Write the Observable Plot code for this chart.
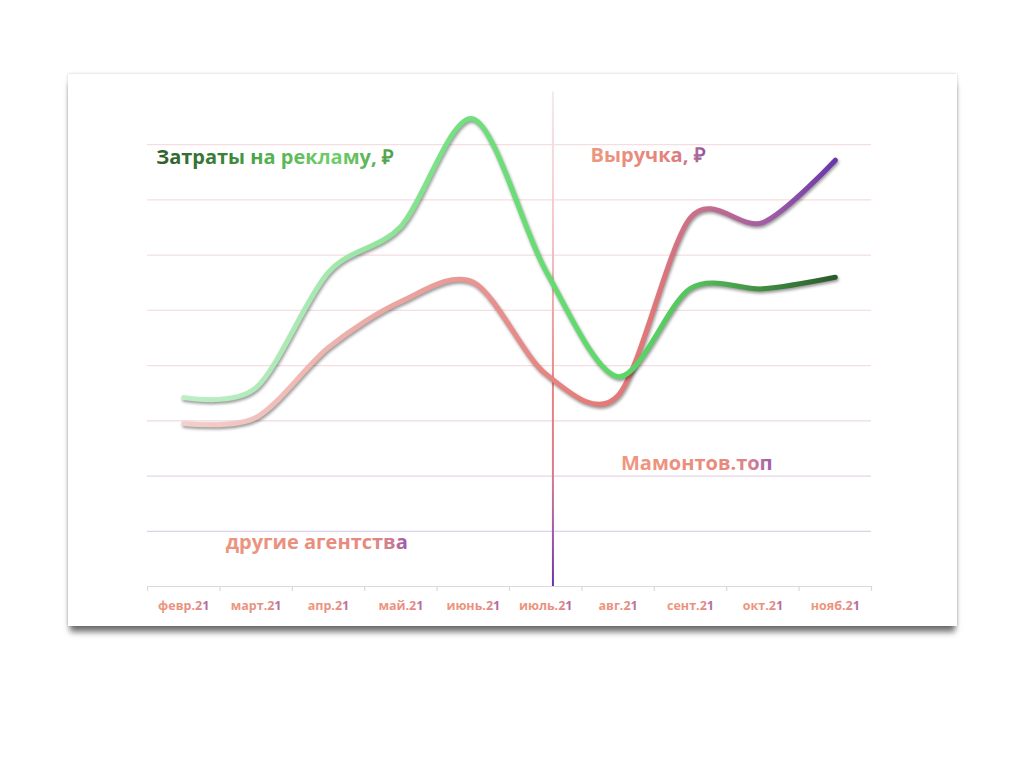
<!DOCTYPE html>
<html>
<head>
<meta charset="utf-8">
<script src="https://cdn.jsdelivr.net/npm/d3@7"></script>
<script src="https://cdn.jsdelivr.net/npm/@observablehq/plot@0.6"></script>
<style>
  html, body { margin: 0; padding: 0; background: #ffffff; }
  body { width: 1024px; height: 768px; overflow: hidden; position: relative; font-family: "Open Sans", sans-serif; }
  #card {
    position: absolute; left: 68px; top: 74px; width: 889px; height: 552px;
    background: #ffffff;
    box-shadow: 0 8px 6px -2px rgba(0,0,0,0.55), 0 0 3px rgba(0,0,0,0.2);
  }
  #card svg { display: block; }
</style>
</head>
<body>
<div id="card"></div>
<script>
// ---- data ----
const months = ["февр.21", "март.21", "апр.21", "май.21", "июнь.21", "июль.21", "авг.21", "сент.21", "окт.21", "нояб.21"];
const adSpend = [3.42, 3.60, 5.69, 6.52, 8.47, 5.72, 3.80, 5.40, 5.39, 5.60];
const revenue = [2.95, 3.06, 4.33, 5.16, 5.51, 3.85, 3.46, 6.68, 6.59, 7.72];
const gridValues = [1, 2, 3, 4, 5, 6, 7, 8];
const dividerAt = [5.1];
const annotationLabels = ["Затраты на рекламу, ₽", "Выручка, ₽", "Мамонтов.топ", "другие агентства"];
const annotationX = [-0.38, 5.62, 6.04, 0.58];
const annotationY = [7.77, 7.80, 2.23, 0.80];

// ---- tables built from the arrays ----
const idx = months.map((m, i) => i);
const spendRows = idx.map(i => ({x: i, y: adSpend[i]}));
const revenueRows = idx.map(i => ({x: i, y: revenue[i]}));
const boundaries = d3.range(-0.5, months.length, 1);
const annotations = annotationLabels.map((t, i) => ({label: t, x: annotationX[i], y: annotationY[i]}));
const annotationFill = ["url(#gTitleGreen)", "url(#gTitlePink)", "url(#gTitlePink2)", "url(#gTitlePink3)"];

const W = 889, H = 552, mT = 15, mB = 40, mL = 79, mR = 86;
const gridColor = d3.interpolateRgb("#ddd2ec", "#f6dde1");

const chart = Plot.plot({
  width: W, height: H,
  marginTop: mT, marginBottom: mB, marginLeft: mL, marginRight: mR,
  style: {background: "transparent", fontFamily: "'Open Sans', sans-serif"},
  x: {domain: [-0.5, months.length - 0.5], axis: null},
  y: {domain: [0, 9], axis: null},
  marks: [
    Plot.ruleY(gridValues, {stroke: d => gridColor(Math.min(1, (d - 1) / 3)), strokeWidth: 1.2}),
    Plot.ruleY([0], {stroke: "#dadada", strokeWidth: 1.2}),
    Plot.ruleX(boundaries, {y1: 0, y2: -0.09, stroke: "#dadada", strokeWidth: 1.2}),
    Plot.text(idx, {x: d => d, y: 0, dy: 19, text: d => months[d], fill: "url(#gTick)", fontSize: 12.5, fontWeight: "bold"}),
    Plot.ruleX(dividerAt, {y1: 0, y2: 9 * 0.995, stroke: "url(#gDivider)", strokeWidth: 2}),
    Plot.line(revenueRows, {x: "x", y: "y", curve: "cardinal", tension: 0.1, stroke: "url(#gRevenue)", strokeWidth: 5, strokeLinecap: "round"}),
    Plot.line(spendRows, {x: "x", y: "y", curve: "cardinal", tension: 0.1, stroke: "url(#gSpend)", strokeWidth: 5, strokeLinecap: "round"}),
    Plot.text(annotations, {x: "x", y: "y", text: "label", textAnchor: "start", fill: (d, i) => annotationFill[i], fontSize: 20, fontWeight: "bold"})
  ]
});

document.getElementById("card").appendChild(chart);

// ---- gradients & shadows ----
const svg = d3.select(chart);
const defs = svg.insert("defs", ":first-child");
function grad(id, stops, vertical, user) {
  const g = defs.append("linearGradient").attr("id", id);
  if (user) {
    g.attr("gradientUnits", "userSpaceOnUse").attr("x1", 0).attr("x2", 0).attr("y1", mT).attr("y2", H - mB);
  } else if (vertical) {
    g.attr("x1", 0).attr("x2", 0).attr("y1", 0).attr("y2", 1);
  } else {
    g.attr("x1", 0).attr("x2", 1).attr("y1", 0).attr("y2", 0);
  }
  stops.forEach(([o, c]) => g.append("stop").attr("offset", o).attr("stop-color", c));
}
grad("gSpend", [[0, "#bdeec4"], [0.22, "#a6e8b0"], [0.44, "#6fe07b"], [0.67, "#5cd867"], [0.78, "#55c45c"], [0.89, "#3f8d41"], [1, "#2d5a2b"]]);
grad("gRevenue", [[0, "#f3d0cb"], [0.22, "#eeb4ae"], [0.44, "#e99592"], [0.62, "#e57c79"], [0.72, "#e07679"], [0.8, "#c56e8c"], [0.9, "#a05ca6"], [1, "#6836ad"]]);
grad("gDivider", [[0, "#f7e9f0"], [0.3, "#f2c4c6"], [0.6, "#e88585"], [0.78, "#d87c8a"], [0.9, "#9a5aa8"], [1, "#6a32a8"]], true, true);
grad("gTick", [[0, "#ec977f"], [0.72, "#e88e80"], [0.86, "#d98490"], [1, "#9a5aa6"]]);
grad("gTitleGreen", [[0, "#2f5c2c"], [0.3, "#3c8439"], [0.45, "#52ad4f"], [0.75, "#72cf6a"], [1, "#4f9f48"]]);
grad("gTitlePink", [[0, "#ec9880"], [0.7, "#e5807a"], [0.85, "#c9788a"], [1, "#8f55a5"]]);
grad("gTitlePink2", [[0, "#ee9880"], [0.7, "#e9887c"], [0.85, "#d98190"], [1, "#9a5aa8"]]);
grad("gTitlePink3", [[0, "#ec9580"], [0.8, "#e7887e"], [0.9, "#d0808e"], [1, "#9a58a8"]]);

svg.selectAll("g[aria-label='line'] path")
  .style("filter", "drop-shadow(1.5px 2.5px 1.5px rgba(0,0,0,0.4))");
</script>
</body>
</html>
